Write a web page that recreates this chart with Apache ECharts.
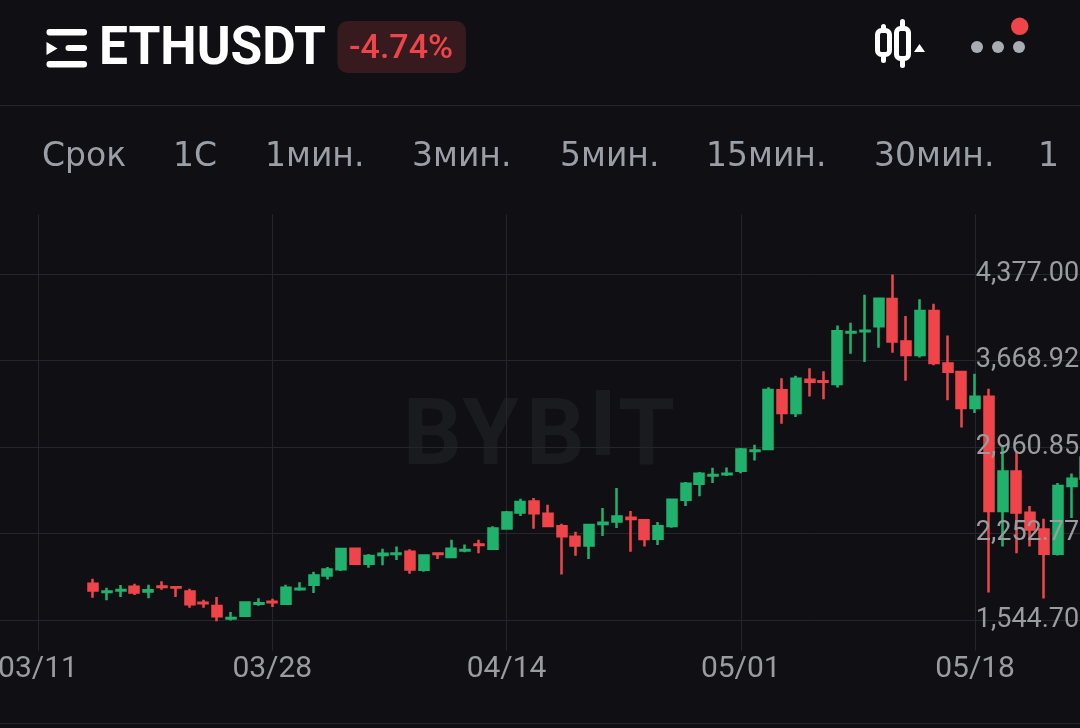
<!DOCTYPE html>
<html>
<head>
<meta charset="utf-8">
<style>html,body{margin:0;padding:0;background:#101014;overflow:hidden}#c{width:1080px;height:728px}</style>
<script src="https://cdn.jsdelivr.net/npm/echarts@6/dist/echarts.min.js"></script>
</head>
<body>
<div id="c"></div>
<script>
const symbol = 'ETHUSDT';
const change = '-4.74%';
const tabs = ['Срок', '1С', '1мин.', '3мин.', '5мин.', '15мин.', '30мин.', '1'];
const tabX = [42, 173, 265, 412, 560, 706, 874, 1038];
const yTicks = [1544.7, 2252.77, 2960.85, 3668.92, 4377];
const yMin = 1294.6, yMax = 4863.4;
const leadEmpty = 7;
const labelEvery = 17, labelStart = 3;
const opens = [1844,1777,1788,1820,1781,1821,1816,1781,1689,1661,
1560,1582,1680,1696,1681,1798,1836,1912,1963,2130,
2008,2078,2087,2106,1959,2090,2062,2115,2164,2130,
2296,2427,2517,2416,2313,2228,2157,2333,2353,2384,
2362,2212,2315,2531,2662,2729,2739,2768,2929,2945,
3425,3239,3512,3500,3476,3897,3909,3948,4171,3825,
3713,4073,3645,3574,3280,3373,2438,2762,2425,2288,
2089,2642,2705];
const closes = [1789,1781,1792,1773,1790,1817,1812,1675,1685,1577,
1564,1691,1684,1692,1811,1802,1912,1961,2127,2008,
2070,2089,2091,1961,2075,2086,2130,2119,2160,2296,
2427,2511,2421,2315,2231,2157,2323,2343,2394,2372,
2209,2313,2531,2662,2743,2733,2743,2942,2933,3427,
3239,3520,3495,3496,3909,3901,3913,4174,3825,3713,
4073,3648,3577,3280,3373,2438,2762,2427,2288,2089,
2642,2703,2876];
const lows = [1730,1708,1735,1751,1726,1795,1736,1648,1648,1538,
1544,1582,1664,1653,1672,1787,1767,1879,1947,1999,
1975,1994,2037,1926,1942,2045,2057,2102,2094,2130,
2286,2397,2294,2307,1920,2073,2045,2233,2299,2106,
2149,2160,2302,2479,2558,2667,2724,2748,2852,2945,
3152,3206,3375,3353,3449,3725,3656,3774,3733,3504,
3693,3631,3343,3122,3239,1773,2149,2094,2149,1724,
2075,2382,2688];
const highs = [1885,1811,1833,1844,1836,1865,1822,1803,1713,1735,
1612,1691,1726,1721,1836,1855,1942,1980,2138,2135,
2086,2130,2149,2125,2081,2100,2204,2165,2204,2313,
2438,2539,2544,2490,2335,2269,2335,2462,2627,2438,
2362,2348,2536,2675,2757,2793,2795,2953,2981,3451,
3523,3545,3605,3580,3956,3978,4207,4174,4373,4032,
4169,4133,3874,3577,3561,3438,2961,2920,2479,2375,
2667,2746,2893];

const monthDays = [['03', 8, 31], ['04', 1, 30], ['05', 1, 26]];
const categories = [];
monthDays.forEach(([m, a, b]) => { for (let d = a; d <= b; d++) categories.push(m + '/' + String(d).padStart(2, '0')); });

const candles = categories.map((_, i) => {
  const k = i - leadEmpty;
  return k >= 0 && k < opens.length ? [opens[k], closes[k], lows[k], highs[k]] : '-';
});

const UP = '#20b26c', DOWN = '#ef454a', GRID = '#25262b', BG = '#101014', TICK = '#9b9c9f';
const FONT = 'Roboto';
const showEvery = (i) => i >= labelStart && (i - labelStart) % labelEvery === 0;
const fmt = v => Number(v).toLocaleString('en-US', { minimumFractionDigits: 2, maximumFractionDigits: 2 });

const wm = (x, t) => ({ type: 'text', z: -1, silent: true, style: { x, y: 441, text: t, fill: '#1a1b1f', font: 'bold 92px Roboto', textAlign: 'left', textVerticalAlign: 'middle' } });
const bar = (x, y, w, h, r, fill) => ({ type: 'rect', shape: { x, y, width: w, height: h, r }, style: { fill } });
const dot = (cx, cy, r, fill) => ({ type: 'circle', shape: { cx, cy, r }, style: { fill } });
const hline = (y) => ({ type: 'line', shape: { x1: 0, y1: y, x2: 1080, y2: y }, style: { stroke: GRID, lineWidth: 1 } });
const candleIcon = (x, top, bot, wt, wb) => [
  bar(x + 6, wt, 5, wb - wt, 2.5, '#fff'),
  { type: 'rect', shape: { x: x + 2.5, y: top + 2.5, width: 12, height: bot - top - 5, r: 4 }, style: { fill: BG, stroke: '#fff', lineWidth: 5 } }
];

const graphics = [
  wm(403, 'B'), wm(462, 'Y'), wm(526, 'B'), wm(618, 'T'),
  { type: 'rect', z: -1, silent: true, shape: { x: 596, y: 390, width: 14, height: 65 }, style: { fill: '#1a1b1f' } },
  hline(105.5), hline(723.5),
  bar(46.5, 29, 40.5, 6.5, 3, '#fff'),
  bar(65.5, 45, 21.5, 6, 3, '#fff'),
  bar(46.5, 61, 40.5, 6.5, 3, '#fff'),
  { type: 'polygon', shape: { points: [[46.5, 42], [57.5, 48.5], [46.5, 55]] }, style: { fill: '#fff' } },
  { type: 'text', x: 99, y: 50, scaleX: 0.953, style: { x: 0, y: 0, text: symbol, fill: '#fff', font: 'bold 54px Roboto', textAlign: 'left', textVerticalAlign: 'middle' } },
  bar(337.5, 21, 128.5, 52, 10, '#371a1e'),
  { type: 'text', style: { x: 349, y: 49, text: change, fill: DOWN, font: '500 34px Roboto', textAlign: 'left', textVerticalAlign: 'middle' } },
  ...candleIcon(875, 28, 57, 24, 63),
  ...candleIcon(894, 26, 61, 19, 68),
  { type: 'polygon', shape: { points: [[914, 52], [919.5, 44], [925, 52]] }, style: { fill: '#fff' } },
  dot(977, 47, 6, '#a8adb4'), dot(998, 47, 6, '#a8adb4'), dot(1019, 47, 6, '#a8adb4'),
  dot(1019.7, 26.3, 8.7, DOWN),
  ...tabs.map((t, i) => ({ type: 'text', style: { x: tabX[i], y: 157, text: t, fill: '#9a9ea6', font: '33px "DejaVu Sans"', textAlign: 'left', textVerticalAlign: 'middle' } }))
];

const chart = echarts.init(document.getElementById('c'), null, { renderer: 'canvas', width: 1080, height: 728 });
chart.setOption({
  animation: false,
  backgroundColor: BG,
  graphic: { elements: graphics },
  grid: { left: -10.2, width: 1102.4, top: 214.4, height: 436.5, containLabel: false, outerBoundsMode: 'none' },
  xAxis: {
    type: 'category', data: categories, boundaryGap: true,
    axisLine: { show: false }, axisTick: { show: false, alignWithLabel: true },
    axisLabel: { interval: (i) => showEvery(i), color: TICK, fontSize: 30, fontFamily: FONT, margin: 4, hideOverlap: false },
    splitLine: { show: true, alignWithLabel: true, interval: (i) => showEvery(i), lineStyle: { color: GRID, width: 1 } }
  },
  yAxis: [{
    type: 'value', position: 'right', min: yMin, max: yMax, scale: true,
    axisLine: { show: false }, axisTick: { show: false, customValues: yTicks },
    axisLabel: { show: false, customValues: yTicks },
    splitLine: { show: true, lineStyle: { color: GRID, width: 1 } }
  }, {
    type: 'value', position: 'right', min: yMin, max: yMax, scale: true, z: 6,
    axisLine: { show: false }, axisTick: { show: false, customValues: yTicks },
    splitLine: { show: false },
    axisLabel: { inside: true, margin: 13, customValues: yTicks, formatter: fmt, color: TICK, fontSize: 27, fontFamily: FONT, padding: [2, 0, 0, 0] }
  }],
  series: [{
    type: 'candlestick', data: candles, barWidth: 9.5, z: 2,
    itemStyle: { color: UP, color0: DOWN, borderColor: UP, borderColor0: DOWN, borderWidth: 2.5 }
  }]
});
</script>
</body>
</html>
